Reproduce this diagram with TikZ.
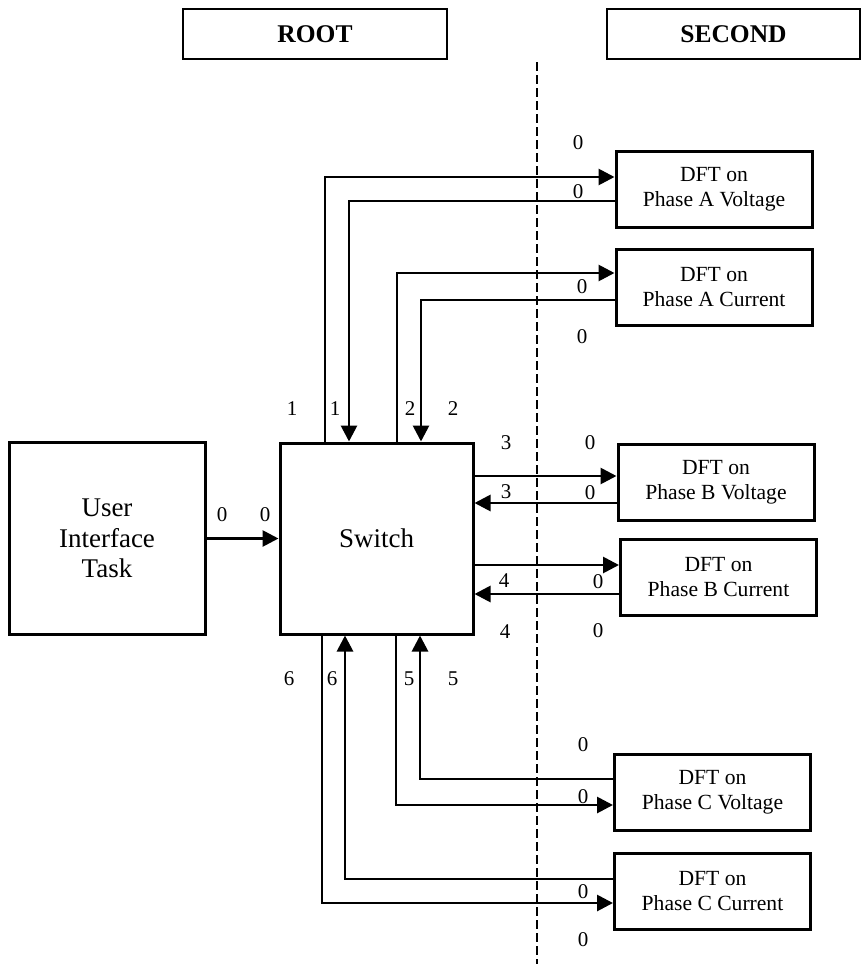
\documentclass[tikz,border=0pt]{standalone}
\usepackage{fontspec}
\setmainfont{Liberation Serif}
\usetikzlibrary{arrows.meta}
\begin{document}
\begin{tikzpicture}[x=1pt,y=-1pt,
  box/.style={draw,line width=3pt,inner sep=0pt,align=center},
  dft/.style={box,minimum width=196pt,minimum height=76pt,font=\fontsize{21.6}{25}\selectfont},
  big/.style={box,minimum width=194pt,minimum height=192pt,font=\fontsize{27}{30.5}\selectfont},
  hdr/.style={box,line width=2.6pt,minimum height=50pt,font=\bfseries\fontsize{25.5}{28}\selectfont},
  lbl/.style={font=\fontsize{21}{22}\selectfont,inner sep=0pt},
  arr/.style={line width=2.8pt,-{Triangle[length=16pt,width=16pt]}},
  sep/.style={line width=2pt,dash pattern=on 9pt off 4pt},
]
\useasboundingbox (0,0) rectangle (865,964);

% headers
\node[hdr,minimum width=264pt] (root) at (315,34) {ROOT};
\node[hdr,minimum width=253pt] (second) at (733.5,34) {SECOND};

% separator
\coordinate (dtop) at (537,62);
\coordinate (dbot) at (537,964);
\draw[sep] (dtop) -- (dbot);

% main boxes
\node[big,minimum width=196pt] (ui) at (107,538.5) {User\\Interface\\Task};
\node[big,minimum width=193pt,minimum height=191pt] (sw) at (376.5,538.5) {Switch};

% DFT boxes
\node[dft] (av) at (714,189) {DFT on\\Phase A Voltage};
\node[dft] (ac) at (714,287) {DFT on\\Phase A Current};
\node[dft] (bv) at (716,482) {DFT on\\Phase B Voltage};
\node[dft] (bc) at (718.5,577.5) {DFT on\\Phase B Current};
\node[dft] (cv) at (712.5,792.5) {DFT on\\Phase C Voltage};
\node[dft] (cc) at (712.5,891) {DFT on\\Phase C Current};

% connectors
\draw[arr] (ui.east) -- (sw.west);

\draw[arr] ([xshift=-51.5pt]sw.north) |- ([yshift=12pt]av.west);
\draw[arr] ([yshift=-12pt]av.west) -| ([xshift=-27.5pt]sw.north);
\draw[arr] ([xshift=20.5pt]sw.north) |- ([yshift=14pt]ac.west);
\draw[arr] ([yshift=-13pt]ac.west) -| ([xshift=44.5pt]sw.north);

\coordinate (p3o) at ([yshift=6pt]bv.west);
\coordinate (p3i) at ([yshift=-21pt]bv.west);
\coordinate (p4o) at ([yshift=12.5pt]bc.west);
\coordinate (p4i) at ([yshift=-16.5pt]bc.west);
\draw[arr] (p3o -| sw.east) -- (p3o);
\draw[arr] (p3i) -- (p3i -| sw.east);
\draw[arr] (p4o -| sw.east) -- (p4o);
\draw[arr] (p4i) -- (p4i -| sw.east);

\draw[arr] ([yshift=13.5pt]cv.west) -| ([xshift=43.5pt]sw.south);
\draw[arr] ([xshift=19.5pt]sw.south) |- ([yshift=-12.5pt]cv.west);
\draw[arr] ([yshift=12pt]cc.west) -| ([xshift=-31.5pt]sw.south);
\draw[arr] ([xshift=-54.5pt]sw.south) |- ([yshift=-12pt]cc.west);

% labels
\node[lbl] (t1a) at (292,409) {1};
\node[lbl] (t1b) at (335,409) {1};
\node[lbl] (t2a) at (410,409) {2};
\node[lbl] (t2b) at (453,409) {2};
\node[lbl] (u0a) at (222,515) {0};
\node[lbl] (u0b) at (265,515) {0};
\node[lbl] (r3a) at (506,443) {3};
\node[lbl] (r0a) at (590,443) {0};
\node[lbl] (r3b) at (506,492) {3};
\node[lbl] (r0b) at (590,493) {0};
\node[lbl] (r4a) at (504,581) {4};
\node[lbl] (r0c) at (598,582) {0};
\node[lbl] (r4b) at (505,632) {4};
\node[lbl] (r0d) at (598,631) {0};
\node[lbl] (b6a) at (289,679) {6};
\node[lbl] (b6b) at (332,679) {6};
\node[lbl] (b5a) at (409,679) {5};
\node[lbl] (b5b) at (453,679) {5};
\node[lbl] (a0a) at (578,143) {0};
\node[lbl] (a0b) at (578,192) {0};
\node[lbl] (a0c) at (582,287) {0};
\node[lbl] (a0d) at (582,337) {0};
\node[lbl] (c0a) at (583,745) {0};
\node[lbl] (c0b) at (583,797) {0};
\node[lbl] (c0c) at (583,892) {0};
\node[lbl] (c0d) at (583,940) {0};
\end{tikzpicture}
\end{document}
